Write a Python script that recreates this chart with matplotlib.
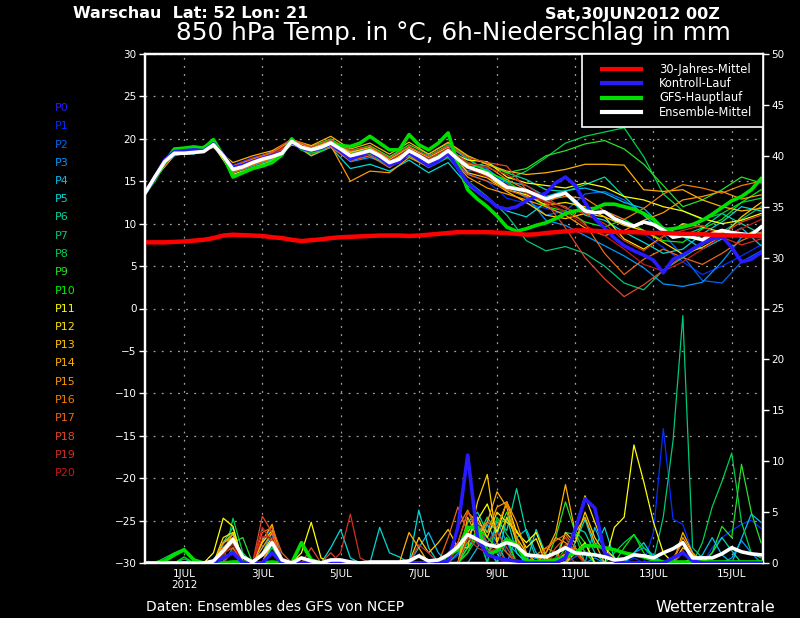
import numpy as np
import matplotlib
matplotlib.use('Agg')
import matplotlib.pyplot as plt
from matplotlib.lines import Line2D
from matplotlib.patches import Rectangle

# Zeitachsen: Tage ab 30JUN2012 00Z
t6 = np.arange(64) * 0.25                      # 6-stuendlich, 0..378h
t12 = np.concatenate([[0.0], np.arange(0.25, 16.0, 0.5)])  # Member-Temperaturen (06Z/18Z)

# 30-Jahres-Mittel (850 hPa Temp.)
klima = [7.8, 7.8, 7.8, 7.85, 7.9, 8.0, 8.1, 8.3, 8.6,
         8.7, 8.65, 8.6, 8.55, 8.4, 8.3, 8.1, 7.95, 8.05, 8.15, 8.3, 8.4,
         8.45, 8.5, 8.55, 8.6, 8.6, 8.6, 8.55, 8.6, 8.7, 8.8, 8.9, 9.0,
         9.0, 9.0, 9.0, 8.95, 8.9, 8.8, 8.7, 8.75, 8.9, 9.0, 9.1, 9.2,
         9.2, 9.15, 9.1, 9.05, 9.0, 9.0, 8.95, 8.9, 8.9, 8.85, 8.8, 8.8,
         8.75, 8.7, 8.65, 8.6, 8.6, 8.55, 8.55]

# GFS-Hauptlauf
haupt_t = [13.6, 15.2, 17.2, 18.8, 18.9, 19.05, 18.9, 19.9, 18.0, 15.5, 16.0, 16.5,
           16.8, 17.2, 18.1, 20.0, 18.8, 18.5, 18.7, 19.5, 19.2, 19.1, 19.5, 20.3,
           19.5, 18.7, 18.7, 20.5, 19.3, 18.7, 19.5, 20.7, 17.0, 14.0, 12.9, 12.0,
           10.9, 9.6, 9.1, 9.4, 9.8, 10.1, 10.6, 11.2, 11.5, 11.7, 11.8, 12.3,
           12.3, 12.0, 11.7, 11.2, 10.5, 9.3, 9.4, 9.6, 9.9, 10.4, 11.1, 11.9,
           12.7, 13.2, 14.0, 15.3]
haupt_p = [0, 0, 0.2, 0.8, 1.3, 0.3, 0, 0, 0, 0.1, 0.1, 0, 0, 0.1, 0, 0,
           2.0, 0.3, 0, 0, 0, 0, 0, 0, 0, 0, 0, 0, 0, 0, 0, 0.8,
           1.3, 3.5, 3.5, 0.8, 1.2, 2.3, 1.8, 0.2, 0.1, 0.2, 0.3, 0.6, 1.0, 1.7, 1.7, 1.5,
           1.3, 1.0, 0.8, 0.6, 0.3, 0.1, 0.1, 0.1, 0.1, 0.1, 0.1, 0.1, 0.1, 0.1, 0.1, 0.1]

# Kontroll-Lauf (P0)
kontroll_t = [13.6, 15.4, 17.5, 18.5, 18.6, 18.7, 18.6, 19.4, 18.1, 16.6, 16.9, 17.3,
              17.7, 18.0, 18.4, 19.6, 18.9, 18.6, 18.9, 19.4, 18.6, 17.6, 18.1, 18.5,
              17.8, 16.9, 17.3, 18.4, 17.6, 16.8, 17.4, 18.3, 16.5, 14.8, 13.8, 13.0,
              12.0, 11.7, 12.0, 12.7, 13.2, 13.6, 14.8, 15.5, 14.5, 12.5, 10.6, 9.5,
              8.3, 7.4, 6.8, 6.3, 5.7, 4.2, 5.8, 6.3, 7.0, 7.7, 8.2, 8.5,
              7.2, 5.5, 5.8, 6.6]
kontroll_p = [0, 0, 0, 0, 0, 0, 0, 0, 0.5, 1.0, 0, 0, 0, 1.0, 0, 0,
              0, 0, 0, 0, 0, 0, 0, 0, 0, 0, 0, 0, 0, 0, 0, 0.2,
              3.5, 10.6, 2.5, 0.8, 0.5, 0.3, 0.2, 0, 0, 0, 0, 0.5, 3.3, 6.3, 5.4, 1.0,
              0.2, 0, 0, 0, 0, 0, 0.5, 1.0, 0.2, 0, 0, 0, 0, 0, 0, 0]

# Ensemble-Mittel
mittel_t = [13.6, 15.5, 17.3, 18.3, 18.3, 18.4, 18.5, 19.3, 18.0, 16.4, 16.7, 17.2,
            17.6, 17.9, 18.3, 19.7, 19.0, 18.7, 19.0, 19.5, 18.8, 18.0, 18.3, 18.6,
            18.0, 17.2, 17.6, 18.6, 18.0, 17.3, 17.8, 18.6, 17.6, 16.7, 16.3, 15.9,
            15.1, 14.3, 14.1, 13.9, 13.4, 12.9, 13.3, 13.6, 12.6, 11.5, 11.3, 11.4,
            10.6, 10.1, 9.7, 10.2, 9.9, 9.25, 8.4, 8.6, 8.4, 8.1, 8.8, 9.2,
            8.95, 8.8, 8.65, 9.6]
mittel_p = [0, 0, 0, 0, 0, 0, 0, 0.2, 1.2, 2.3, 0.6, 0.1, 0.8, 2.0, 0.3, 0,
            0.5, 0.2, 0, 0.3, 0.3, 0.1, 0, 0.1, 0.1, 0.1, 0.1, 0.2, 0.7, 0.2, 0.3, 0.8,
            1.6, 2.8, 2.3, 1.8, 1.6, 2.0, 1.7, 0.8, 0.7, 0.6, 1.0, 1.5, 1.0, 0.9, 0.8, 0.6,
            0.3, 0.4, 0.8, 0.7, 0.5, 1.0, 1.4, 2.0, 0.5, 0.5, 0.5, 0.9, 1.5, 1.1, 0.9, 0.8]

# Ensemble-Member P1..P20: Temperatur (auf t12)
member_t = [
    [13.6, 15.4, 18.2, 18.6, 19.2, 16.9, 17.8, 18.3, 19.6, 18.4, 19.1, 17.6, 18.0, 16.8, 18.2, 16.9, 18.3,
     15.9, 15.0, 13.0, 12.4, 11.8, 11.2, 12.0, 11.5, 10.5, 8.8, 7.2, 5.5, 4.0, 5.0, 6.2, 7.5],
    [13.6, 15.6, 18.4, 18.3, 19.4, 16.2, 17.0, 17.6, 19.9, 19.0, 19.8, 18.2, 18.8, 17.5, 18.9, 17.6, 19.0,
     17.0, 16.5, 14.5, 13.0, 11.0, 11.5, 13.5, 13.8, 12.8, 11.0, 8.8, 6.2, 3.3, 3.0, 5.5, 6.8],
    [13.6, 15.5, 18.0, 18.5, 19.0, 16.6, 17.4, 18.5, 19.4, 18.2, 19.3, 17.3, 17.8, 17.0, 18.0, 17.0, 17.9,
     16.2, 16.4, 14.8, 13.2, 10.4, 9.8, 8.6, 7.4, 6.2, 4.8, 2.9, 2.6, 3.1, 5.5, 8.4, 9.6],
    [13.6, 15.5, 18.3, 18.2, 19.5, 16.0, 16.8, 17.6, 19.8, 18.6, 19.9, 18.5, 18.8, 17.8, 19.0, 18.0, 19.2,
     17.6, 16.2, 15.0, 14.5, 13.2, 13.9, 14.2, 13.6, 12.5, 11.8, 9.6, 8.5, 7.0, 8.2, 9.5, 7.4],
    [13.6, 15.3, 18.2, 18.4, 19.1, 16.8, 17.5, 18.2, 19.5, 18.0, 19.0, 16.5, 17.0, 16.2, 17.5, 16.0, 17.2,
     14.5, 12.8, 11.5, 10.8, 12.5, 13.5, 11.0, 10.4, 9.0, 7.8, 6.5, 7.0, 8.8, 10.2, 12.0, 11.5],
    [13.6, 15.6, 18.3, 18.5, 19.3, 16.5, 17.1, 17.8, 19.6, 18.8, 19.5, 18.3, 18.6, 17.2, 18.5, 17.4, 18.4,
     16.5, 17.2, 16.0, 15.2, 14.0, 13.8, 14.6, 15.5, 13.2, 11.0, 9.0, 8.6, 9.5, 11.2, 10.0, 8.8],
    [13.6, 15.4, 18.4, 18.3, 19.2, 16.3, 17.0, 17.5, 19.5, 18.5, 19.4, 17.8, 18.2, 16.8, 18.0, 16.6, 17.8,
     15.0, 13.2, 11.0, 8.0, 6.8, 7.3, 6.5, 5.0, 3.0, 2.2, 4.5, 6.0, 7.5, 9.0, 10.5, 12.0],
    [13.6, 15.5, 18.2, 18.4, 19.4, 16.6, 17.3, 18.0, 19.8, 18.9, 19.7, 18.3, 18.9, 17.6, 19.0, 17.9, 19.3,
     17.8, 16.0, 15.2, 16.2, 17.8, 19.5, 20.3, 20.8, 21.3, 17.9, 13.5, 11.5, 10.5, 11.2, 12.5, 13.0],
    [13.6, 15.6, 18.5, 18.6, 19.6, 16.8, 17.5, 18.1, 19.9, 19.1, 20.0, 18.6, 19.2, 17.9, 19.3, 18.2, 19.5,
     18.0, 17.0, 16.0, 16.5, 18.0, 18.6, 19.4, 19.8, 18.8, 17.0, 14.5, 12.0, 12.8, 14.0, 15.5, 14.8],
    [13.6, 15.4, 18.3, 18.5, 19.3, 16.2, 17.0, 17.7, 19.5, 18.6, 19.5, 18.0, 18.6, 17.2, 18.7, 17.5, 18.8,
     17.2, 16.2, 15.0, 13.5, 12.0, 11.5, 10.2, 9.6, 10.5, 9.2, 8.0, 7.8, 9.4, 10.5, 12.5, 14.0],
    [13.6, 15.5, 18.4, 18.3, 19.2, 15.8, 16.6, 17.4, 19.3, 18.6, 19.6, 17.9, 18.5, 17.0, 18.4, 17.3, 18.6,
     17.5, 17.3, 15.5, 14.8, 14.5, 14.2, 14.8, 14.3, 13.2, 12.8, 12.0, 11.5, 10.6, 10.0, 10.4, 11.2],
    [13.6, 15.6, 18.3, 18.6, 19.3, 16.4, 17.2, 18.0, 19.6, 18.8, 19.3, 18.1, 18.6, 17.3, 18.6, 17.2, 18.4,
     16.8, 15.6, 14.0, 13.4, 12.2, 12.5, 12.0, 10.8, 8.2, 7.0, 8.5, 10.0, 9.6, 9.0, 8.4, 9.5],
    [13.6, 15.5, 18.2, 18.4, 19.4, 16.7, 17.6, 18.4, 19.8, 18.9, 19.7, 18.4, 19.0, 17.6, 19.0, 17.8, 19.0,
     16.0, 15.4, 13.8, 12.5, 11.0, 10.6, 11.2, 10.8, 9.8, 9.2, 7.8, 6.4, 7.2, 8.5, 10.8, 12.5],
    [13.6, 15.3, 18.1, 18.3, 19.0, 17.2, 18.0, 18.6, 19.9, 19.2, 20.3, 18.8, 19.5, 18.2, 19.6, 18.2, 19.6,
     18.0, 17.0, 16.2, 15.8, 16.0, 16.4, 17.0, 17.0, 16.9, 14.0, 13.8, 14.0, 12.8, 12.0, 11.5, 11.8],
    [13.6, 15.5, 18.4, 18.4, 19.3, 16.2, 17.0, 17.8, 19.7, 18.0, 19.2, 15.0, 16.2, 16.0, 17.8, 16.7, 18.1,
     15.5, 14.2, 13.5, 12.8, 12.0, 11.0, 9.5, 8.6, 9.2, 10.4, 11.3, 12.8, 13.2, 13.8, 12.9, 13.4],
    [13.6, 15.6, 18.3, 18.5, 19.2, 16.5, 17.3, 18.1, 19.6, 18.5, 19.4, 18.0, 18.4, 17.1, 18.5, 17.1, 18.5,
     17.0, 16.8, 15.2, 14.0, 12.8, 13.2, 13.0, 11.5, 10.5, 11.8, 13.5, 14.6, 14.2, 13.6, 14.5, 15.0],
    [13.6, 15.4, 18.2, 18.3, 19.4, 16.0, 16.9, 17.7, 19.6, 18.4, 19.0, 17.4, 18.0, 16.6, 18.1, 16.8, 18.0,
     15.8, 15.0, 14.0, 13.2, 12.6, 12.0, 10.0, 6.5, 4.0, 5.8, 7.0, 6.0, 5.2, 6.5, 8.0, 9.0],
    [13.6, 15.5, 18.5, 18.7, 19.6, 16.8, 17.7, 18.4, 20.0, 19.0, 19.9, 18.6, 19.1, 17.7, 19.1, 17.9, 19.2,
     17.8, 17.2, 16.8, 14.0, 12.5, 9.5, 6.0, 3.5, 1.4, 2.8, 4.5, 6.2, 7.8, 8.8, 10.2, 11.0],
    [13.6, 15.6, 18.3, 18.4, 19.3, 16.4, 17.3, 18.0, 19.6, 18.6, 19.5, 18.2, 18.7, 17.4, 18.8, 17.6, 18.9,
     17.2, 16.6, 15.8, 14.5, 13.0, 11.8, 11.2, 10.0, 8.0, 6.8, 8.5, 9.2, 9.8, 8.4, 7.5, 8.2],
    [13.6, 15.4, 18.4, 18.5, 19.2, 16.6, 17.5, 18.2, 19.7, 18.8, 19.3, 17.6, 18.3, 17.0, 18.3, 17.4, 18.4,
     16.5, 15.5, 14.6, 13.6, 12.5, 11.4, 9.8, 8.6, 7.0, 5.2, 4.4, 5.5, 7.0, 8.5, 9.4, 10.5],
]

# Ensemble-Member P1..P20: 6h-Niederschlag {6h-Index: mm}, sonst 0
member_p = [
    {8: 1.0, 9: 2.2, 12: 1.5, 13: 2.8, 33: 3.5, 34: 1.8, 35: 4.5, 36: 1.0, 37: 2.0, 43: 0.8, 44: 1.5,
     50: 0.5, 52: 3.0, 53: 13.2, 54: 4.3, 55: 3.8, 56: 1.0, 58: 1.5, 59: 2.5, 60: 3.2, 61: 3.8, 62: 4.2, 63: 3.4},
    {8: 1.8, 9: 3.0, 12: 2.0, 13: 3.6, 14: 0.5, 32: 0.8, 33: 2.5, 34: 4.0, 35: 2.0, 36: 3.5, 37: 1.0,
     39: 0.5, 44: 0.6, 45: 1.2, 55: 1.0, 56: 0.3},
    {8: 1.2, 9: 2.5, 13: 2.4, 28: 0.8, 32: 1.0, 33: 2.0, 34: 3.2, 36: 4.2, 37: 2.0, 38: 1.0, 40: 0.5,
     46: 0.5, 50: 1.0, 51: 1.5, 52: 0.8, 60: 0.5, 61: 2.2, 62: 1.0},
    {8: 1.5, 9: 2.0, 12: 1.0, 13: 3.0, 28: 1.5, 29: 3.0, 30: 1.0, 34: 1.5, 35: 3.8, 36: 2.0, 38: 2.5,
     39: 3.3, 40: 1.0, 43: 1.0, 46: 3.5, 47: 1.2, 48: 0.5, 57: 0.8, 58: 2.5, 59: 0.8, 61: 2.4, 62: 4.8, 63: 4.0},
    {8: 1.0, 9: 2.5, 13: 1.8, 19: 1.5, 20: 3.3, 21: 0.5, 24: 3.5, 25: 1.0, 26: 0.6, 28: 5.2, 29: 1.5,
     33: 1.5, 34: 3.0, 35: 2.0, 37: 4.5, 38: 1.0, 40: 3.3, 41: 0.8, 44: 2.0, 45: 4.3, 46: 1.5, 47: 3.5,
     48: 0.5, 50: 1.0, 51: 2.0, 52: 0.5},
    {8: 2.0, 9: 3.5, 13: 2.0, 33: 4.0, 34: 5.0, 35: 3.0, 36: 4.0, 37: 3.2, 38: 7.3, 39: 3.0, 40: 0.5,
     44: 3.5, 45: 3.0, 46: 1.0, 58: 1.0, 59: 2.5, 60: 1.2},
    {4: 0.4, 9: 1.5, 13: 1.0, 33: 1.0, 34: 2.5, 35: 1.5, 37: 2.2, 43: 1.0, 44: 1.5, 52: 0.3,
     53: 4.5, 54: 12.0, 55: 24.3, 56: 1.5, 57: 0.5},
    {2: 0.5, 3: 1.0, 4: 1.4, 5: 0.3, 9: 4.4, 10: 1.0, 13: 1.5, 33: 2.0, 34: 3.0, 36: 4.5, 37: 2.8,
     38: 1.5, 42: 0.5, 43: 3.0, 44: 2.8, 48: 1.0, 49: 2.0, 50: 2.8, 51: 1.5, 52: 0.5, 57: 2.0,
     58: 5.5, 59: 8.0, 60: 10.8, 61: 4.0, 62: 1.0, 63: 0.5},
    {8: 1.0, 9: 2.0, 10: 2.5, 12: 1.0, 13: 1.8, 16: 0.5, 33: 1.5, 34: 2.5, 35: 4.5, 36: 3.0, 37: 5.0,
     38: 2.0, 42: 2.5, 43: 6.0, 44: 3.0, 45: 1.0, 58: 1.0, 59: 3.6, 60: 2.5, 61: 9.7, 62: 5.0, 63: 2.0},
    {4: 0.6, 8: 1.0, 9: 3.0, 12: 1.0, 13: 2.0, 33: 1.0, 34: 3.5, 35: 2.5, 36: 1.5, 37: 2.5, 43: 1.5,
     44: 3.2, 45: 2.0, 49: 1.5, 50: 2.8, 51: 1.0, 56: 0.5},
    {7: 1.0, 8: 4.4, 9: 3.6, 12: 1.0, 13: 2.5, 16: 1.0, 17: 4.0, 18: 0.5, 33: 2.5, 34: 4.2, 35: 5.8,
     36: 3.0, 37: 6.0, 38: 3.0, 39: 2.0, 40: 3.0, 41: 0.5, 44: 1.0, 45: 2.0, 48: 3.5, 49: 4.5,
     50: 11.6, 51: 8.0, 52: 4.0, 53: 1.0},
    {8: 2.5, 9: 3.0, 12: 2.0, 13: 3.2, 33: 3.0, 34: 4.5, 35: 2.5, 36: 5.0, 37: 4.0, 38: 3.2, 39: 1.5,
     40: 2.4, 43: 1.0, 44: 3.5, 45: 6.6, 46: 4.0, 47: 1.5, 48: 0.5, 56: 0.5, 57: 0.3},
    {8: 1.5, 9: 2.5, 13: 2.0, 28: 2.5, 29: 1.0, 30: 2.0, 31: 3.3, 32: 1.5, 33: 1.5, 34: 6.0, 35: 8.7,
     36: 2.0, 37: 4.5, 38: 2.5, 39: 1.0, 43: 3.0, 44: 2.0, 45: 5.0, 46: 2.5, 47: 1.0, 55: 1.5, 56: 0.8},
    {8: 2.0, 9: 2.8, 12: 2.2, 13: 3.8, 27: 3.0, 28: 1.5, 33: 4.5, 34: 2.5, 35: 4.0, 36: 7.0, 37: 5.5,
     38: 2.0, 41: 1.0, 42: 3.0, 43: 7.7, 44: 3.0, 45: 4.5, 46: 2.0, 55: 3.0, 56: 1.0},
    {8: 2.0, 9: 2.5, 12: 1.5, 13: 3.0, 31: 1.0, 32: 2.0, 33: 5.0, 34: 4.0, 35: 3.0, 36: 5.5, 37: 6.0,
     38: 4.0, 39: 1.0, 41: 1.0, 42: 2.5, 43: 2.0, 44: 1.0, 55: 2.5, 56: 1.0},
    {8: 1.5, 9: 2.0, 13: 2.5, 32: 3.5, 33: 5.2, 34: 3.0, 35: 4.0, 36: 3.5, 37: 6.0, 38: 2.5, 40: 0.8,
     41: 1.5, 42: 1.0, 44: 1.5, 54: 0.5, 55: 2.0},
    {8: 1.0, 9: 1.5, 12: 3.0, 13: 3.5, 14: 1.0, 31: 2.5, 32: 5.5, 33: 3.0, 34: 2.0, 35: 1.0, 36: 2.0,
     37: 1.0, 41: 1.5, 42: 2.2, 43: 2.8, 44: 1.5, 55: 1.2},
    {8: 1.0, 9: 2.0, 12: 4.6, 13: 3.0, 14: 0.5, 17: 1.5, 19: 1.0, 32: 2.0, 33: 5.0, 34: 3.5, 35: 2.0,
     36: 3.0, 37: 1.5, 42: 1.5, 43: 2.5, 44: 1.0, 55: 1.0},
    {9: 1.2, 12: 3.5, 13: 2.0, 20: 1.0, 21: 4.8, 22: 0.5, 28: 1.8, 29: 1.0, 33: 2.5, 34: 1.5, 35: 1.0,
     36: 1.5, 42: 1.0, 43: 1.8, 44: 1.0},
    {8: 0.8, 9: 1.8, 12: 2.6, 13: 2.5, 32: 1.5, 33: 3.0, 34: 2.0, 35: 1.0, 36: 0.5, 42: 0.5, 43: 1.0},
]

farben = ['#2a1aff', '#0030ff', '#0064f0', '#0096ff', '#00bef0', '#00d8d8', '#00d8a0',
          '#00c878', '#00d050', '#28e028', '#00f000', '#ffff00', '#ffe000', '#ffc800',
          '#ffb000', '#ff9800', '#f08000', '#e86818', '#e04828', '#d03020', '#c81818']

legende_namen = ['30-Jahres-Mittel', 'Kontroll-Lauf', 'GFS-Hauptlauf', 'Ensemble-Mittel']
legende_farben = ['#ff0000', '#2a1aff', '#00e000', 'white']

tick_tage = [1, 3, 5, 7, 9, 11, 13, 15]
tick_namen = ['1JUL\n2012', '3JUL', '5JUL', '7JUL', '9JUL', '11JUL', '13JUL', '15JUL']

W, H = 800, 618
fig = plt.figure(figsize=(8, 6.18), dpi=100)
fig.patch.set_facecolor('black')
ax = fig.add_axes([145 / W, 1 - 563 / H, 618 / W, 509 / H])
ax.set_facecolor('black')
ax2 = ax.twinx()

# Member
for k in range(20):
    p = np.zeros(64)
    for i, v in member_p[k].items():
        p[i] = v
    ax.plot(t12, member_t[k], color=farben[k + 1], lw=0.9, zorder=2)
    ax2.plot(t6, p, color=farben[k + 1], lw=0.9, zorder=2)

# Hauptlinien
ax.plot(t6, haupt_t, color='#00e000', lw=2.6, zorder=4)
ax.plot(t6, kontroll_t, color=farben[0], lw=2.6, zorder=4)
ax.plot(t6, mittel_t, color='white', lw=2.6, zorder=5)
ax.plot(t6, klima, color='#ff0000', lw=3.2, zorder=6)
ax2.plot(t6, haupt_p, color='#00e000', lw=2.6, zorder=4)
ax2.plot(t6, kontroll_p, color=farben[0], lw=2.6, zorder=4)
ax2.plot(t6, mittel_p, color='white', lw=2.6, zorder=5)

ax.set_xlim(0, 15.8)
ax.set_ylim(-30, 30)
ax2.set_ylim(0, 50)
ax.set_yticks(np.arange(-30, 31, 5))
ax2.set_yticks(np.arange(0, 51, 5))
ax.set_xticks(tick_tage)
ax.set_xticklabels(tick_namen)
ax.grid(True, color='#a0a0a0', linestyle=(0, (1.5, 5)), lw=0.9)
ax.set_axisbelow(True)

for a in (ax, ax2):
    for s in a.spines.values():
        s.set_color('white')
        s.set_linewidth(1.6)
    a.tick_params(colors='white', labelsize=7.5, length=4, width=1, direction='out', pad=2)
ax.tick_params(axis='x', length=0, pad=4)

# Legende (Kasten oben rechts)
fig.patches.append(Rectangle((582 / W, 1 - 127 / H), 181 / W, 73 / H, transform=fig.transFigure,
                             facecolor='black', edgecolor='white', lw=1.2, zorder=10))
for k, (name, f) in enumerate(zip(legende_namen, legende_farben)):
    yy = 1 - (69 + k * 14.4) / H
    fig.add_artist(Line2D([602 / W, 641 / W], [yy, yy], color=f, lw=3, zorder=11))
    fig.text(659 / W, yy, name, color='white', fontsize=8.3, va='center', ha='left', zorder=11)

# Memberliste links
for k in range(21):
    fig.text(55 / W, 1 - (108 + k * 18.25) / H, 'P%d' % k, color=farben[k],
             fontsize=8, va='center', ha='left')

# Texte
fig.text(73 / W, 1 - 14 / H, 'Warschau  Lat: 52 Lon: 21', color='white', fontsize=11.5,
         fontweight='bold', va='center', ha='left')
fig.text(545 / W, 1 - 14 / H, 'Sat,30JUN2012 00Z', color='white', fontsize=11.5,
         fontweight='bold', va='center', ha='left')
fig.text(453 / W, 1 - 33 / H, '850 hPa Temp. in °C, 6h-Niederschlag in mm', color='white',
         fontsize=17.8, va='center', ha='center')
fig.text(146 / W, 1 - 607 / H, 'Daten: Ensembles des GFS von NCEP', color='white',
         fontsize=10, va='center', ha='left')
fig.text(775 / W, 1 - 607 / H, 'Wetterzentrale', color='white', fontsize=11.5,
         va='center', ha='right')

fig.savefig('out.png', dpi=100, facecolor='black')
